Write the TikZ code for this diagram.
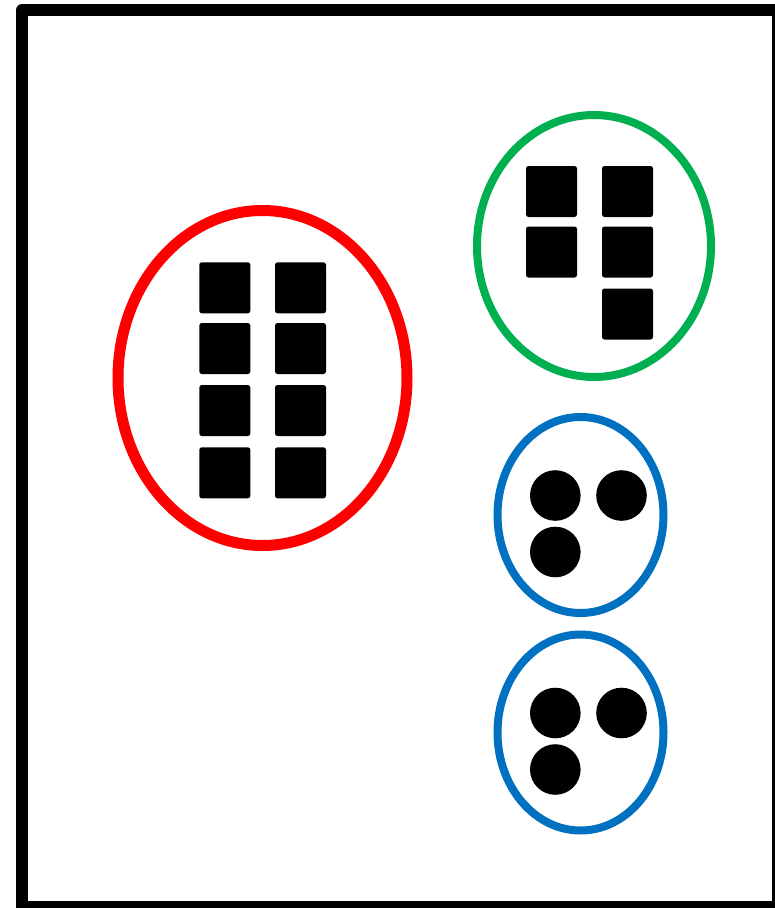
\documentclass[tikz,border=0pt]{standalone}
\definecolor{gred}{HTML}{FF0000}
\definecolor{ggreen}{HTML}{00B050}
\definecolor{gblue}{HTML}{0070C0}
\begin{document}
\begin{tikzpicture}[x=1pt,y=-1pt,
  frame/.style={draw=black,line width=12pt,line join=round},
  tile/.style={fill=black,rounded corners=2.5pt},
  dot/.style={fill=black},
  redring/.style={draw=gred,line width=11pt},
  greenring/.style={draw=ggreen,line width=8pt},
  bluering/.style={draw=gblue,line width=8pt}]
\useasboundingbox (0,0) rectangle (775,908);
\clip (0,0) rectangle (775,908);
\fill[white] (0,0) rectangle (775,908);
\draw[frame] (22,10) rectangle (778,907);
% red group
\draw[redring] (262.5,378) ellipse [x radius=144.5, y radius=167.5];
\foreach \y in {262.3,323,385,447.3}{
  \foreach \x in {199.3,275}{
    \fill[tile] (\x,\y) rectangle ++(51,51);
  }
}
% green group
\draw[greenring] (594,246) ellipse [x radius=117, y radius=131];
\fill[tile] (526,166) rectangle ++(51,51);
\fill[tile] (602,166) rectangle ++(51,51);
\fill[tile] (526,226.5) rectangle ++(51,51);
\fill[tile] (602,226.5) rectangle ++(51,51);
\fill[tile] (602,288.5) rectangle ++(51,51);
% blue groups
\foreach \dy in {0,217.5}{
  \draw[bluering] (580.5,515+\dy) ellipse [x radius=83, y radius=98];
  \fill[dot] (555.3,495.5+\dy) circle (25.3);
  \fill[dot] (621.5,495.5+\dy) circle (25.3);
  \fill[dot] (555.3,552+\dy) circle (25.3);
}
\end{tikzpicture}
\end{document}
